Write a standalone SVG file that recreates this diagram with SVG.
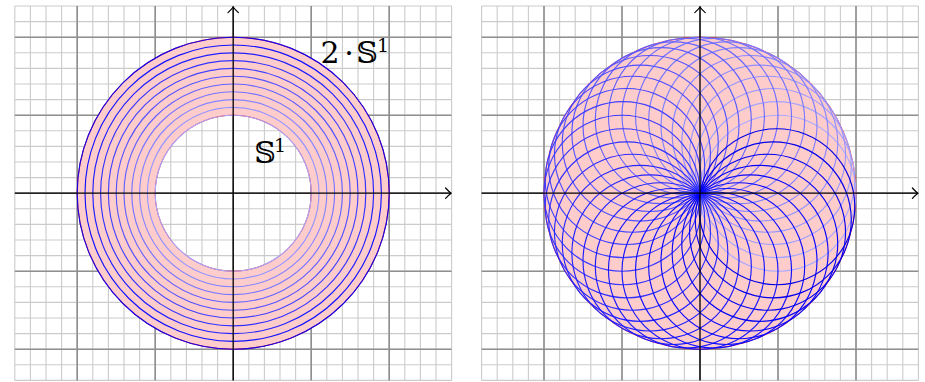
<svg xmlns="http://www.w3.org/2000/svg" xmlns:xlink="http://www.w3.org/1999/xlink" width="925" height="382" viewBox="0 0 925 382">
<style>
.minor{fill:none;stroke:#cbcbcb;stroke-width:1.1}
.major{fill:none;stroke:#8f8f8f;stroke-width:1.6}
.axis{fill:none;stroke:#000;stroke-width:1.3}
.tip{fill:none;stroke:#000;stroke-width:1.2;stroke-linecap:round;stroke-linejoin:round}
.disk{fill:#ffcccc;stroke:#ff0000;stroke-width:0.8}
.c{fill:none;stroke-width:1.15}
.lbl{font-family:"DejaVu Serif","DejaVu Sans","Noto Sans",serif;fill:#000;text-anchor:middle}
</style>
<defs>
<g id="grid">
<path class="minor" d="M-218.4 -187.2V187.2M-202.8 -187.2V187.2M-187.2 -187.2V187.2M-171.6 -187.2V187.2M-156 -187.2V187.2M-140.4 -187.2V187.2M-124.8 -187.2V187.2M-109.2 -187.2V187.2M-93.6 -187.2V187.2M-78 -187.2V187.2M-62.4 -187.2V187.2M-46.8 -187.2V187.2M-31.2 -187.2V187.2M-15.6 -187.2V187.2M0 -187.2V187.2M15.6 -187.2V187.2M31.2 -187.2V187.2M46.8 -187.2V187.2M62.4 -187.2V187.2M78 -187.2V187.2M93.6 -187.2V187.2M109.2 -187.2V187.2M124.8 -187.2V187.2M140.4 -187.2V187.2M156 -187.2V187.2M171.6 -187.2V187.2M187.2 -187.2V187.2M202.8 -187.2V187.2M218.4 -187.2V187.2M-218.4 -187.2H218.4M-218.4 -171.6H218.4M-218.4 -156H218.4M-218.4 -140.4H218.4M-218.4 -124.8H218.4M-218.4 -109.2H218.4M-218.4 -93.6H218.4M-218.4 -78H218.4M-218.4 -62.4H218.4M-218.4 -46.8H218.4M-218.4 -31.2H218.4M-218.4 -15.6H218.4M-218.4 0H218.4M-218.4 15.6H218.4M-218.4 31.2H218.4M-218.4 46.8H218.4M-218.4 62.4H218.4M-218.4 78H218.4M-218.4 93.6H218.4M-218.4 109.2H218.4M-218.4 124.8H218.4M-218.4 140.4H218.4M-218.4 156H218.4M-218.4 171.6H218.4M-218.4 187.2H218.4"/>
<path class="major" d="M-156 -187.2V187.2M-78 -187.2V187.2M0 -187.2V187.2M78 -187.2V187.2M156 -187.2V187.2M-218.4 -156H218.4M-218.4 -78H218.4M-218.4 0H218.4M-218.4 78H218.4M-218.4 156H218.4"/>
</g>
<g id="axes">
<path class="axis" d="M-218.4 0H217.8M0 187.2V-186.6"/>
<path class="tip" d="M212.4 -5.2Q215.6 -1.6 218 0Q215.6 1.6 212.4 5.2M-5.2 -180.6Q-1.6 -183.8 0 -186.2Q1.6 -183.8 5.2 -180.6"/>
</g>
</defs>

<g id="left-panel">
<use xlink:href="#grid" href="#grid" transform="translate(233.2,193.2)"/>
<g id="annulus" transform="translate(233.2,193.2)">
<path class="disk" fill-rule="evenodd" d="M156 0A156 156 0 1 0 -156 0A156 156 0 1 0 156 0ZM78 0A78 78 0 1 0 -78 0A78 78 0 1 0 78 0Z"/>
<circle class="c" r="78" stroke="rgb(166,166,255)"/>
<circle class="c" r="85.8" stroke="rgb(149,149,255)"/>
<circle class="c" r="93.6" stroke="rgb(133,133,255)"/>
<circle class="c" r="101.4" stroke="rgb(116,116,255)"/>
<circle class="c" r="109.2" stroke="rgb(99,99,255)"/>
<circle class="c" r="117" stroke="rgb(83,83,255)"/>
<circle class="c" r="124.8" stroke="rgb(66,66,255)"/>
<circle class="c" r="132.6" stroke="rgb(50,50,255)"/>
<circle class="c" r="140.4" stroke="rgb(33,33,255)"/>
<circle class="c" r="148.2" stroke="rgb(17,17,255)"/>
<circle class="c" r="156" stroke="rgb(20,0,230)"/>
</g>
<use xlink:href="#axes" href="#axes" transform="translate(233.2,193.2)"/>
<g id="label-2S1">
<text class="lbl" x="330" y="63" font-size="30">2</text>
<text class="lbl" x="349" y="63" font-size="30">·</text>
<text class="lbl" x="367" y="63" font-size="30">𝕊</text>
<text class="lbl" x="383" y="52" font-size="19">1</text>
</g>
<g id="label-S1">
<text class="lbl" x="265" y="163" font-size="30">𝕊</text>
<text class="lbl" x="280" y="152" font-size="19">1</text>
</g>
</g>

<g id="right-panel">
<use xlink:href="#grid" href="#grid" transform="translate(700,193.2)"/>
<g id="disk-circles" transform="translate(700,193.2)">
<circle class="disk" r="156"/>
<circle class="c" r="78" cx="78" cy="0" stroke="rgb(170,170,255)"/>
<circle class="c" r="78" cx="76.81" cy="-13.54" stroke="rgb(163,163,255)"/>
<circle class="c" r="78" cx="73.30" cy="-26.68" stroke="rgb(156,156,255)"/>
<circle class="c" r="78" cx="67.55" cy="-39" stroke="rgb(149,149,255)"/>
<circle class="c" r="78" cx="59.75" cy="-50.14" stroke="rgb(142,142,255)"/>
<circle class="c" r="78" cx="50.14" cy="-59.75" stroke="rgb(135,135,255)"/>
<circle class="c" r="78" cx="39" cy="-67.55" stroke="rgb(128,128,255)"/>
<circle class="c" r="78" cx="26.68" cy="-73.30" stroke="rgb(122,122,255)"/>
<circle class="c" r="78" cx="13.54" cy="-76.81" stroke="rgb(115,115,255)"/>
<circle class="c" r="78" cx="0" cy="-78" stroke="rgb(109,109,255)"/>
<circle class="c" r="78" cx="-13.54" cy="-76.81" stroke="rgb(103,103,255)"/>
<circle class="c" r="78" cx="-26.68" cy="-73.30" stroke="rgb(97,97,255)"/>
<circle class="c" r="78" cx="-39" cy="-67.55" stroke="rgb(91,91,255)"/>
<circle class="c" r="78" cx="-50.14" cy="-59.75" stroke="rgb(85,85,255)"/>
<circle class="c" r="78" cx="-59.75" cy="-50.14" stroke="rgb(79,79,255)"/>
<circle class="c" r="78" cx="-67.55" cy="-39" stroke="rgb(73,73,255)"/>
<circle class="c" r="78" cx="-73.30" cy="-26.68" stroke="rgb(68,68,255)"/>
<circle class="c" r="78" cx="-76.81" cy="-13.54" stroke="rgb(63,63,255)"/>
<circle class="c" r="78" cx="-78" cy="0" stroke="rgb(58,58,255)"/>
<circle class="c" r="78" cx="-76.81" cy="13.54" stroke="rgb(53,53,255)"/>
<circle class="c" r="78" cx="-73.30" cy="26.68" stroke="rgb(48,48,255)"/>
<circle class="c" r="78" cx="-67.55" cy="39" stroke="rgb(43,43,255)"/>
<circle class="c" r="78" cx="-59.75" cy="50.14" stroke="rgb(38,38,255)"/>
<circle class="c" r="78" cx="-50.14" cy="59.75" stroke="rgb(34,34,255)"/>
<circle class="c" r="78" cx="-39" cy="67.55" stroke="rgb(30,30,255)"/>
<circle class="c" r="78" cx="-26.68" cy="73.30" stroke="rgb(26,26,255)"/>
<circle class="c" r="78" cx="-13.54" cy="76.81" stroke="rgb(22,22,255)"/>
<circle class="c" r="78" cx="0" cy="78" stroke="rgb(19,19,255)"/>
<circle class="c" r="78" cx="13.54" cy="76.81" stroke="rgb(15,15,255)"/>
<circle class="c" r="78" cx="26.68" cy="73.30" stroke="rgb(12,12,255)"/>
<circle class="c" r="78" cx="39" cy="67.55" stroke="rgb(9,9,255)"/>
<circle class="c" r="78" cx="50.14" cy="59.75" stroke="rgb(7,7,250)"/>
<circle class="c" r="78" cx="59.75" cy="50.14" stroke="rgb(4,4,245)"/>
<circle class="c" r="78" cx="67.55" cy="39" stroke="rgb(2,2,240)"/>
<circle class="c" r="78" cx="73.30" cy="26.68" stroke="rgb(1,1,235)"/>
<circle class="c" r="78" cx="76.81" cy="13.54" stroke="rgb(0,0,230)"/>
</g>
<use xlink:href="#axes" href="#axes" transform="translate(700,193.2)"/>
</g>
</svg>
